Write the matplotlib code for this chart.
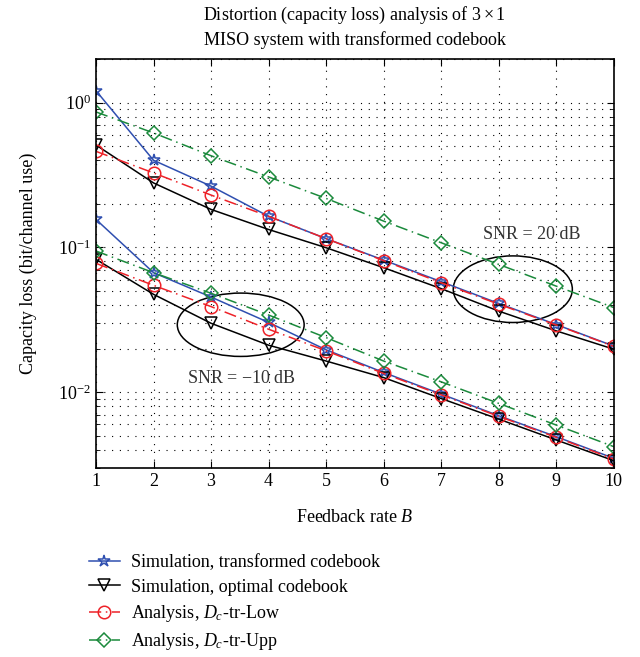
import numpy as np
import matplotlib
matplotlib.use("Agg")
import matplotlib.pyplot as plt
from matplotlib.patches import Ellipse

plt.rcParams['font.family'] = ['Liberation Serif', 'DejaVu Serif']
plt.rcParams['mathtext.fontset'] = 'custom'
plt.rcParams['mathtext.rm'] = 'Liberation Serif'
plt.rcParams['mathtext.it'] = 'Liberation Serif:italic'
plt.rcParams['mathtext.fallback'] = 'stix'

# feedback rate
B = [1, 2, 3, 4, 5, 6, 7, 8, 9, 10]

# SNR = 20 dB
sim_tr_20 = [1.21, 0.40, 0.265, 0.164, 0.115, 0.0817, 0.058, 0.041, 0.0293, 0.0208]
sim_opt_20 = [0.51, 0.279, 0.183, 0.133, 0.0995, 0.0724, 0.0519, 0.0363, 0.0265, 0.0198]
ana_low_20 = [0.461, 0.327, 0.230, 0.164, 0.115, 0.081, 0.057, 0.0405, 0.0291, 0.0207]
ana_upp_20 = [0.863, 0.618, 0.43, 0.307, 0.218, 0.152, 0.1077, 0.0763, 0.054, 0.0384]

# SNR = -10 dB
sim_tr_m10 = [0.156, 0.0669, 0.0454, 0.0303, 0.0196, 0.01367, 0.00969, 0.00687, 0.00492, 0.00349]
sim_opt_m10 = [0.0827, 0.0474, 0.0299, 0.0211, 0.0164, 0.0126, 0.00903, 0.00651, 0.00467, 0.00336]
ana_low_m10 = [0.0776, 0.0547, 0.039, 0.0272, 0.0193, 0.01346, 0.00958, 0.0068, 0.00487, 0.00345]
ana_upp_m10 = [0.0944, 0.0669, 0.0482, 0.0341, 0.0238, 0.0164, 0.01178, 0.00836, 0.00592, 0.0042]

labels = ['Simulation, transformed codebook',
          'Simulation, optimal codebook',
          r'Analysis, $D_c$-tr-Low',
          r'Analysis, $D_c$-tr-Upp']

blue = '#2f4fb0'
red = '#ee2228'
green = '#1b8a3c'

fig = plt.figure(figsize=(6.4, 6.57), dpi=100)
ax = fig.add_axes([0.15, 0.288, 0.809, 0.622])

styles = [
    dict(color=blue, ls='-', marker='*', ms=9),
    dict(color='black', ls='-', marker='v', ms=9),
    dict(color=red, ls=(0, (8, 3, 1, 3)), marker='o', ms=9),
    dict(color=green, ls=(0, (8, 3, 1, 3)), marker='D', ms=7),
]

handles = []
for data, st, lab in zip([sim_tr_20, sim_opt_20, ana_low_20, ana_upp_20], styles, labels):
    h, = ax.plot(B, data, lw=1.1, mfc='none', mew=1.1, label=lab, **st)
    handles.append(h)
for data, st in zip([sim_tr_m10, sim_opt_m10, ana_low_m10, ana_upp_m10], styles):
    ax.plot(B, data, lw=1.1, mfc='none', mew=1.1, **st)

ax.set_yscale('log')
ax.set_xlim(1, 10)
ax.set_ylim(0.003, 2)
ax.set_xticks(B)
ax.tick_params(which='both', direction='in', top=True, right=True, labelsize=13)
ax.tick_params(which='major', length=5)
ax.tick_params(which='minor', length=3)
ax.grid(True, which='major', ls=(0, (1, 6)), color='black', lw=0.8)
ax.grid(True, which='minor', axis='y', ls=(0, (1, 6)), color='black', lw=0.8)
for sp in ax.spines.values():
    sp.set_linewidth(1.2)

ax.set_xlabel('Feedback rate $B$', fontsize=13, labelpad=14)
ax.set_ylabel('Capacity loss (bit/channel use)', fontsize=13, labelpad=15)
ax.set_title('Distortion (capacity loss) analysis of $3 \\times 1$\nMISO system with transformed codebook',
             fontsize=13, pad=10, linespacing=1.4)

ax.add_patch(Ellipse((0.805, 0.437), 0.230, 0.163, transform=ax.transAxes,
                     fill=False, color='black', lw=1.1))
ax.add_patch(Ellipse((0.2795, 0.35), 0.245, 0.155, transform=ax.transAxes,
                     fill=False, color='black', lw=1.1))
ax.text(0.841, 0.571, 'SNR = 20 dB', transform=ax.transAxes, fontsize=13,
        ha='center', va='center', color='#333333')
ax.text(0.281, 0.219, 'SNR = $-$10 dB', transform=ax.transAxes, fontsize=13,
        ha='center', va='center', color='#333333')

fig.legend(handles=handles, loc='upper left', bbox_to_anchor=(0.128, 0.167),
           frameon=False, fontsize=13, handlelength=1.7, labelspacing=0.4,
           borderaxespad=0, handletextpad=0.6)

fig.savefig('out.png', dpi=100)
